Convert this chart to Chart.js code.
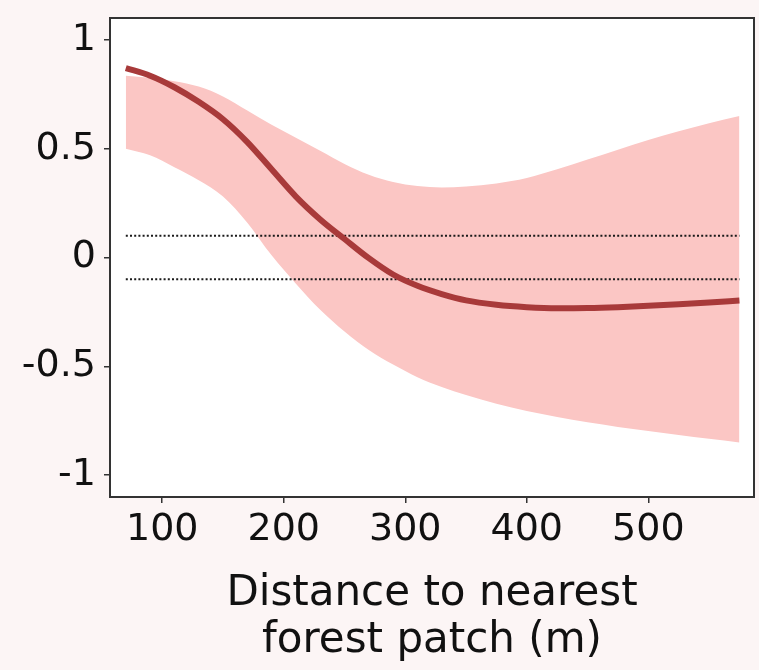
<!DOCTYPE html>
<html>
<head>
<meta charset="utf-8">
<script src="https://cdn.jsdelivr.net/npm/chart.js@4.4.1/dist/chart.umd.min.js"></script>
<style>
  html, body { margin: 0; padding: 0; background: #fcf5f5; }
  #wrap { width: 759px; height: 670px; }
</style>
</head>
<body>
<div id="wrap"><canvas id="smoothChart"></canvas></div>
<script>
// distance to nearest forest patch (m)
var distances = [70, 90, 110, 130, 150, 170, 190, 210, 230, 250, 270, 290, 310, 330, 350, 375, 400, 425, 450, 475, 500, 525, 550, 575];
var fitted = [0.87, 0.835, 0.782, 0.715, 0.635, 0.53, 0.405, 0.28, 0.175, 0.085, -0.003, -0.078, -0.13, -0.168, -0.197, -0.217, -0.228, -0.233, -0.232, -0.228, -0.222, -0.215, -0.207, -0.198];
var upperCI = [0.835, 0.826, 0.81, 0.785, 0.74, 0.675, 0.61, 0.55, 0.49, 0.43, 0.38, 0.347, 0.328, 0.322, 0.326, 0.34, 0.365, 0.405, 0.45, 0.495, 0.54, 0.58, 0.617, 0.65];
var lowerCI = [0.50, 0.47, 0.415, 0.355, 0.28, 0.16, 0.01, -0.12, -0.24, -0.34, -0.425, -0.492, -0.55, -0.595, -0.632, -0.672, -0.705, -0.732, -0.757, -0.778, -0.797, -0.815, -0.833, -0.85];
var refLevels = [0.1, -0.1];
var xTicks = [100, 200, 300, 400, 500];
var yTicks = [1, 0.5, 0, -0.5, -1];

function pts(ys) {
    return distances.map(function (d, i) { return { x: d, y: ys[i] }; });
}
function flat(v) {
    return [{ x: distances[0], y: v }, { x: distances[distances.length - 1], y: v }];
}

var plotFrame = {
    id: 'plotFrame',
    beforeDatasetsDraw: function (chart) {
        var a = chart.chartArea, ctx = chart.ctx;
        ctx.save();
        ctx.fillStyle = '#ffffff';
        ctx.fillRect(a.left, a.top, a.right - a.left, a.bottom - a.top);
        ctx.restore();
    },
    afterDraw: function (chart) {
        var a = chart.chartArea, ctx = chart.ctx;
        ctx.save();
        ctx.strokeStyle = '#333333';
        ctx.lineWidth = 2;
        ctx.strokeRect(a.left, a.top, a.right - a.left, a.bottom - a.top);
        ctx.restore();
    }
};

var ctx = document.getElementById('smoothChart').getContext('2d');
var smoothChart = new Chart(ctx, {
    type: 'line',
    data: {
        datasets: [
            { data: pts(fitted), borderColor: '#a83a3a', borderWidth: 6, pointRadius: 0, cubicInterpolationMode: 'monotone', fill: false },
            { data: flat(refLevels[0]), borderColor: '#1a1a1a', borderWidth: 2, borderDash: [2, 2.2], pointRadius: 0, fill: false },
            { data: flat(refLevels[1]), borderColor: '#1a1a1a', borderWidth: 2, borderDash: [2, 2.2], pointRadius: 0, fill: false },
            { data: pts(upperCI), borderWidth: 0, borderColor: 'rgba(0,0,0,0)', pointRadius: 0, cubicInterpolationMode: 'monotone', fill: '+1', backgroundColor: '#fbc6c4' },
            { data: pts(lowerCI), borderWidth: 0, borderColor: 'rgba(0,0,0,0)', pointRadius: 0, cubicInterpolationMode: 'monotone', fill: false }
        ]
    },
    options: {
        responsive: true,
        maintainAspectRatio: false,
        animation: false,
        layout: { padding: { top: 18, right: 5, left: 0, bottom: 0 } },
        plugins: { legend: { display: false }, tooltip: { enabled: false } },
        scales: {
            x: {
                type: 'linear',
                min: 57,
                max: 587,
                afterBuildTicks: function (s) { s.ticks = xTicks.map(function (v) { return { value: v }; }); },
                afterFit: function (s) { s.height = 173; s.paddingLeft = 0; s.paddingRight = 0; },
                grid: { drawOnChartArea: false, drawTicks: true, tickLength: 6, color: '#333333', lineWidth: 1.5 },
                border: { display: false },
                ticks: { color: '#111111', font: { family: 'DejaVu Sans', size: 38 }, padding: 4, maxRotation: 0 },
                title: {
                    display: true,
                    text: ['Distance to nearest', 'forest patch (m)'],
                    color: '#111111',
                    font: { family: 'DejaVu Sans', size: 42, lineHeight: 1.13 },
                    padding: { top: 0, bottom: 5 }
                }
            },
            y: {
                min: -1.1,
                max: 1.1,
                afterBuildTicks: function (s) { s.ticks = yTicks.map(function (v) { return { value: v }; }); },
                afterFit: function (s) { s.width = 110; s.paddingTop = 0; s.paddingBottom = 0; },
                grid: { drawOnChartArea: false, drawTicks: true, tickLength: 6, color: '#333333', lineWidth: 1.5 },
                border: { display: false },
                ticks: {
                    color: '#111111',
                    font: { family: 'DejaVu Sans', size: 38 },
                    padding: 8,
                    callback: function (v) { return String(v); }
                }
            }
        }
    },
    plugins: [plotFrame]
});
</script>
</body>
</html>
